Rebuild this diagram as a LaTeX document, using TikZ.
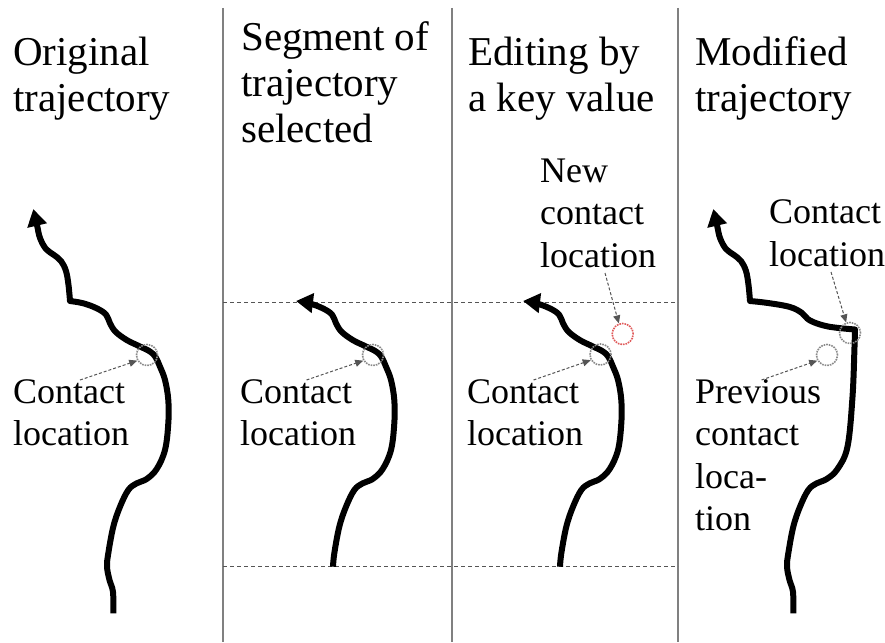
\documentclass[tikz,border=0pt]{standalone}
\usepackage{fontspec}
\setmainfont{Liberation Serif}
\usetikzlibrary{arrows.meta}
\definecolor{sepgray}{HTML}{808080}
\definecolor{dashgray}{HTML}{555555}
\definecolor{circgray}{HTML}{8A8A8A}
\definecolor{newred}{HTML}{E05A5A}
\tikzset{
  traj/.style={line width=6pt, line join=round, line cap=butt},
  bighead/.style={{Triangle[length=17pt,width=19pt]}-},
  sepline/.style={draw=sepgray, line width=1.5pt},
  cutline/.style={draw=dashgray, line width=1pt, dash pattern=on 4pt off 3pt},
  pointer/.style={draw=dashgray, line width=1pt, dash pattern=on 3pt off 2pt, -{Triangle[length=8pt,width=7pt]}},
  contactc/.style={draw=circgray, line width=1.6pt, densely dotted},
  newc/.style={draw=newred, line width=1.6pt, densely dotted},
  title/.style={font=\fontsize{41}{46}\selectfont, anchor=base west, inner sep=0pt, align=left},
  lbl/.style={font=\fontsize{36}{42.5}\selectfont, anchor=base west, inner sep=0pt, align=left}
}
\begin{document}
\begin{tikzpicture}[x=1pt,y=-1pt]
\useasboundingbox (0,0) rectangle (885,642);
\fill[white] (0,0) rectangle (885,642);

% separators
\coordinate (s1t) at (223,8);  \coordinate (s1b) at (223,642);
\coordinate (s2t) at (452,8);  \coordinate (s2b) at (452,642);
\coordinate (s3t) at (678,8);  \coordinate (s3b) at (678,642);
\draw[sepline] (s1t) -- (s1b);
\draw[sepline] (s2t) -- (s2b);
\draw[sepline] (s3t) -- (s3b);

% cut lines
\coordinate (c1l) at (223,302); \coordinate (c1r) at (678,302);
\coordinate (c2l) at (223,566); \coordinate (c2r) at (678,566);
\draw[cutline] (c1l) -- (c1r);
\draw[cutline] (c2l) -- (c2r);

% titles (anchor is the baseline of the last line)
\node[title] (t1) at (13,111) {Original\\trajectory};
\node[title] (t2) at (241,142) {Segment of\\trajectory\\selected};
\node[title] (t3) at (468,111) {Editing by\\a key value};
\node[title] (t4) at (695,111) {Modified\\trajectory};

% panel 1: original trajectory
\draw[traj, bighead] plot[smooth, tension=0.6] coordinates {(33.3,209) (37,225) (40,238) (46,249) (54,255) (61,261) (66,271) (68.5,285) (70,301)}
  -- plot[smooth, tension=0.6] coordinates {(70,301) (83.3,303.3) (96.7,308.3) (106,314.5) (110,323.3) (115.5,331.7) (126.7,340) (140,346.5) (150,351.5) (155.5,357) (160,366.7) (165,380) (168.3,400) (168.3,423.3) (165,450) (156.7,469) (146.7,479) (136.7,483.3) (128.3,490) (120,506.7) (113.3,526.7) (108.3,553.3) (107,566.7) (109.5,580) (113,592) (113.3,613.3)};

% panels 2 and 3: selected segment
\foreach \s in {226,453}{
  \begin{scope}[shift={(\s,0)}]
  \draw[traj, bighead] plot[smooth, tension=0.6] coordinates {(70,301) (83.3,303.3) (96.7,308.3) (106,314.5) (110,323.3) (115.5,331.7) (126.7,340) (140,346.5) (150,351.5) (155.5,357) (160,366.7) (165,380) (168.3,400) (168.3,423.3) (165,450) (156.7,469) (146.7,479) (136.7,483.3) (128.3,490) (120,506.7) (113.3,526.7) (108.3,553.3) (107,566.7)};
  \end{scope}
}

% panel 4: modified trajectory
\draw[traj, bighead] plot[smooth, tension=0.6] coordinates {(713.3,209) (717,225) (720,238) (726,249) (734,255) (741,261) (746,271) (748.5,285) (750,301)}
  -- plot[smooth, tension=0.6] coordinates {(750,301) (768,303) (790,307) (802,313) (810,320.5) (828,326.5) (855,329.5)}
  -- plot[smooth, tension=0.6] coordinates {(855,329.5) (854.5,346.7) (852.5,396.7) (847.5,446.7) (837.5,469) (826.7,479) (816.7,483.3) (808.3,490) (800,506.7) (793.3,526.7) (788.3,553.3) (787,566.7) (789.5,580) (793,592) (793.3,613.3)};

% contact circles
\node[contactc, circle, minimum size=21pt, inner sep=0pt] (cc1) at (147,355) {};
\node[contactc, circle, minimum size=21pt, inner sep=0pt] (cc2) at (373,355) {};
\node[contactc, circle, minimum size=21pt, inner sep=0pt] (cc3) at (600.5,354.5) {};
\node[newc, circle, minimum size=21pt, inner sep=0pt] (nc3) at (622.7,334) {};
\node[contactc, circle, minimum size=21pt, inner sep=0pt] (cc4) at (850,333) {};
\node[contactc, circle, minimum size=21pt, inner sep=0pt] (pc4) at (827,355) {};

% labels (anchor is the baseline of the last line)
\node[lbl] (l1) at (13,445.5) {Contact\\location};
\node[lbl] (l2) at (240,445.5) {Contact\\location};
\node[lbl] (l3) at (467,445.5) {Contact\\location};
\node[lbl] (n3) at (540,267) {New\\contact\\location};
\node[lbl] (l4) at (769,266) {Contact\\location};
\node[lbl] (p4) at (695,530.5) {Previous\\contact\\loca-\\tion};

% pointer arrows
\coordinate (a1) at (80,380);
\coordinate (a2) at (306.5,380);
\coordinate (a3) at (533.5,380);
\coordinate (a3n) at (605,273);
\coordinate (a4) at (831,272);
\coordinate (a4p) at (761.5,380);
\draw[pointer] (a1) -- (cc1.210);
\draw[pointer] (a2) -- (cc2.210);
\draw[pointer] (a3) -- (cc3.210);
\draw[pointer] (a3n) -- (nc3.110);
\draw[pointer] (a4) -- (cc4.110);
\draw[pointer] (a4p) -- (pc4.210);
\end{tikzpicture}
\end{document}
